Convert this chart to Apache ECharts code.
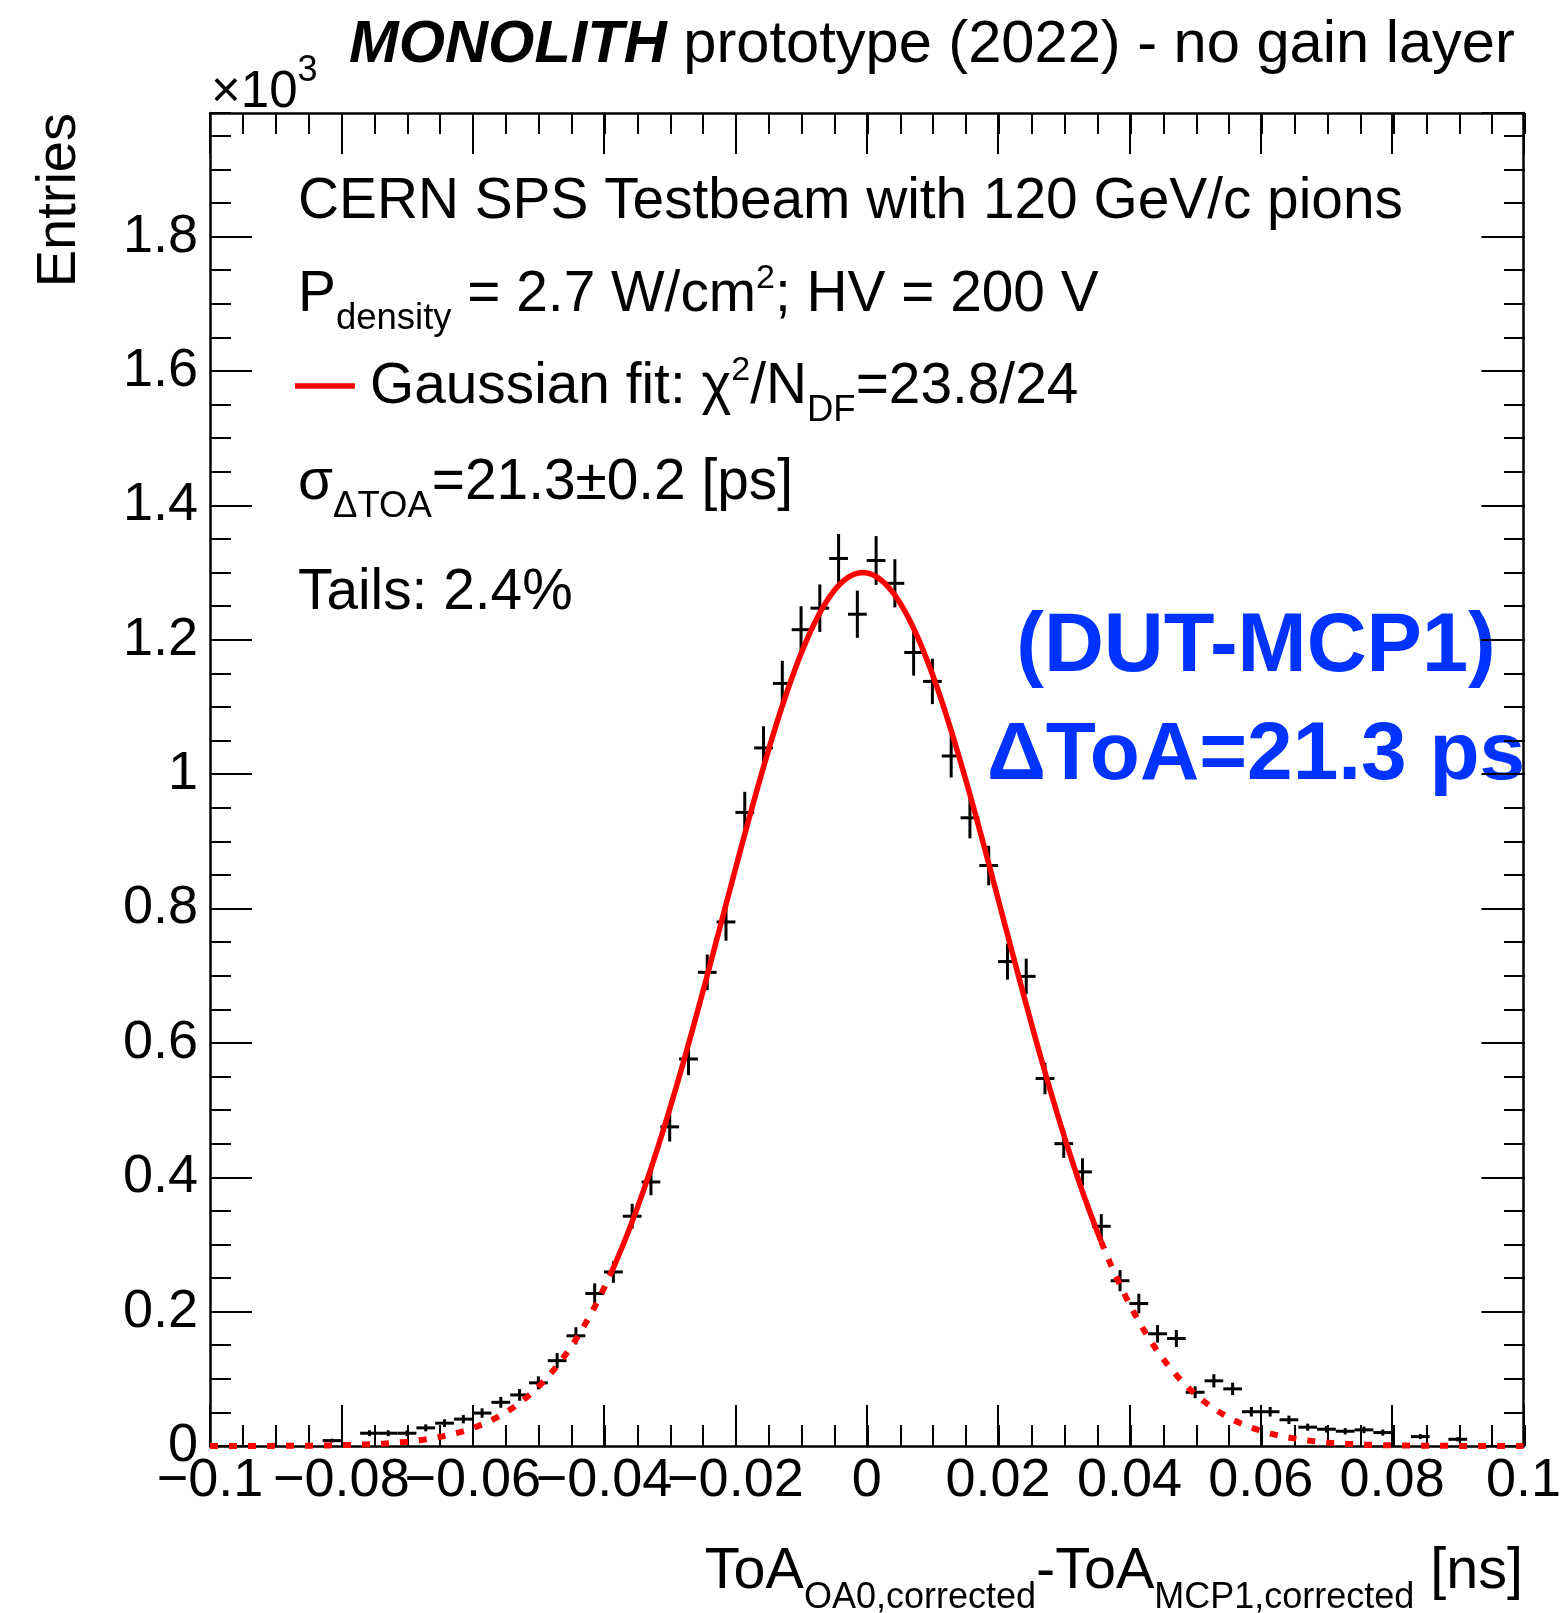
<!DOCTYPE html>
<html lang="en">
<head>
<meta charset="UTF-8">
<title>MONOLITH prototype (2022) - no gain layer</title>
<script src="https://cdn.jsdelivr.net/npm/echarts@6/dist/echarts.min.js"></script>
<style>
  html, body { margin: 0; padding: 0; background: #fff; }
  #main { width: 1564px; height: 1613px; }
</style>
</head>
<body>
<div id="main"></div>
<script>
// histogram: 70 bins between -0.1 and 0.1 ns, entries in units of 10^3
var xMin = -0.1, xMax = 0.1, nBins = 70;
var counts = [
  0, 0, 0, 0, 0, 0, 0.008, 0, 0.019, 0.019,
  0.019, 0.027, 0.034, 0.040, 0.049, 0.065, 0.076, 0.094, 0.127, 0.164,
  0.227, 0.259, 0.342, 0.393, 0.475, 0.576, 0.705, 0.780, 0.943, 1.039,
  1.135, 1.215, 1.247, 1.321, 1.238, 1.318, 1.284, 1.181, 1.138, 1.027,
  0.935, 0.864, 0.721, 0.699, 0.547, 0.450, 0.408, 0.327, 0.246, 0.212,
  0.167, 0.160, 0.080, 0.097, 0.085, 0.051, 0.051, 0.039, 0.028, 0.025,
  0.022, 0.024, 0.020, 0, 0.014, 0, 0.010, 0, 0, 0
];
var yMax = 1.984;

// gaussian fit (from the legend: sigma = 21.3 ps)
var fitAmp = 1.300, fitMean = -0.0006, fitSigma = 0.0213;
var fitRange = [-0.0388, 0.0357];

var FONT = '"Liberation Sans", Arial, Helvetica, sans-serif';
var binW = (xMax - xMin) / nBins;

var histData = [];
for (var i = 0; i < nBins; i++) {
    if (counts[i] <= 0) continue;
    var xc = xMin + (i + 0.5) * binW;
    // poisson error on the number of entries
    histData.push([xc, counts[i], Math.sqrt(counts[i] * 1000) / 1000]);
}

function gaus(x) {
    var d = (x - fitMean) / fitSigma;
    return fitAmp * Math.exp(-0.5 * d * d);
}
var fitLeft = [], fitMid = [], fitRight = [];
for (var k = 0; k <= 400; k++) {
    var x = xMin + k * 0.0005;
    if (x <= fitRange[0]) fitLeft.push([x, gaus(x)]);
    else if (x >= fitRange[1]) fitRight.push([x, gaus(x)]);
    else fitMid.push([x, gaus(x)]);
}
fitLeft.push([fitRange[0], gaus(fitRange[0])]);
fitMid.unshift([fitRange[0], gaus(fitRange[0])]);
fitMid.push([fitRange[1], gaus(fitRange[1])]);
fitRight.unshift([fitRange[1], gaus(fitRange[1])]);

// text helpers (latex-like runs with sub/superscripts)
var mctx = document.createElement('canvas').getContext('2d');
function fontOf(p) {
    return (p.italic ? 'italic ' : '') + (p.bold ? 'bold ' : '') + p.size + 'px ' + FONT;
}
function baseShift(font, size) {
    mctx.font = font;
    mctx.textBaseline = 'alphabetic';
    var a = mctx.measureText('H').fontBoundingBoxAscent;
    mctx.textBaseline = 'middle';
    var m = mctx.measureText('H').fontBoundingBoxAscent;
    mctx.textBaseline = 'alphabetic';
    var s = a - m;
    return isFinite(s) ? s : 0.3465 * size;
}
function textRun(x, y, parts, align, color) {
    var widths = [], total = 0;
    parts.forEach(function (p) {
        mctx.font = fontOf(p);
        var w = mctx.measureText(p.t).width;
        widths.push(w);
        total += w;
    });
    var cx = align === 'right' ? x - total : (align === 'center' ? x - total / 2 : x);
    var els = [];
    parts.forEach(function (p, j) {
        var f = fontOf(p);
        els.push({
            type: 'text', silent: true,
            x: cx, y: y + (p.dy || 0) - baseShift(f, p.size),
            style: {
                text: p.t, font: f, fill: color || '#000',
                align: 'left', textAlign: 'left',
                verticalAlign: 'middle', textVerticalAlign: 'middle'
            }
        });
        cx += widths[j];
    });
    return els;
}

var TXT = 56.8, SUBS = 36.5, SUB = 18, SUP = -23;
var graphics = [].concat(
    textRun(349, 62, [
        {t: 'MONOLITH', size: 59.6, bold: true, italic: true},
        {t: ' prototype (2022) - no gain layer', size: 59.6}
    ]),
    textRun(211, 107, [{t: '\u00d710', size: 51}, {t: '3', size: 36, dy: -26}]),
    textRun(298, 218, [{t: 'CERN SPS Testbeam with 120 GeV/c pions', size: TXT}]),
    textRun(298, 311, [
        {t: 'P', size: TXT}, {t: 'density', size: SUBS, dy: SUB},
        {t: ' = 2.7 W/cm', size: TXT}, {t: '2', size: 34, dy: SUP},
        {t: '; HV = 200 V', size: TXT}
    ]),
    textRun(370, 403, [
        {t: 'Gaussian fit: \u03c7', size: TXT}, {t: '2', size: 34, dy: SUP},
        {t: '/N', size: TXT}, {t: 'DF', size: SUBS, dy: SUB},
        {t: '=23.8/24', size: TXT}
    ]),
    textRun(298, 499, [
        {t: '\u03c3', size: TXT}, {t: '\u0394TOA', size: SUBS, dy: SUB},
        {t: '=21.3\u00b10.2 [ps]', size: TXT}
    ]),
    textRun(298, 609, [{t: 'Tails: 2.4%', size: TXT}]),
    textRun(1256, 671, [{t: '(DUT-MCP1)', size: 83, bold: true}], 'center', '#0033ff'),
    textRun(1256, 779, [{t: '\u0394ToA=21.3 ps', size: 82, bold: true}], 'center', '#0033ff'),
    textRun(1523, 1588, [
        {t: 'ToA', size: 57.5}, {t: 'OA0,corrected', size: 36, dy: 20},
        {t: '-ToA', size: 57.5}, {t: 'MCP1,corrected', size: 36, dy: 20},
        {t: ' [ns]', size: 57.5}
    ], 'right')
);
graphics.push({
    type: 'text', silent: true, x: 60, y: 113, rotation: Math.PI / 2,
    style: {
        text: 'Entries', font: '56px ' + FONT, fill: '#000',
        align: 'right', textAlign: 'right', verticalAlign: 'middle', textVerticalAlign: 'middle'
    }
});
graphics.push({
    type: 'line', silent: true,
    shape: {x1: 295, y1: 386, x2: 355, y2: 386},
    style: {stroke: '#ff0000', lineWidth: 5.5}
});

function fmt(v, d) {
    var s = String(+v.toFixed(d));
    return v < 0 ? '\u2212' + s.slice(1) : s;
}

var frame = {show: true, onZero: false, lineStyle: {color: '#000', width: 2.5}};
var noLine = {show: false, onZero: false};
function ticks(len) {
    return {show: true, inside: true, length: len, lineStyle: {color: '#000', width: 2}};
}
var noLabel = {show: false};
var G = {left: 210, right: 39, top: 113, bottom: 167};

var option = {
    backgroundColor: '#fff',
    animation: false,
    grid: [G, G],
    graphic: graphics,
    xAxis: [
        {gridIndex: 0, type: 'value', position: 'bottom', min: xMin, max: xMax, interval: 0.02,
         axisLine: frame, axisTick: ticks(41), splitLine: {show: false},
         axisLabel: {color: '#000', fontFamily: FONT, fontSize: 54, margin: 8,
                     hideOverlap: false, formatter: function (v) { return fmt(v, 2); }}},
        {gridIndex: 0, type: 'value', position: 'top', min: xMin, max: xMax, interval: 0.02,
         axisLine: frame, axisTick: ticks(41), splitLine: {show: false}, axisLabel: noLabel},
        {gridIndex: 1, type: 'value', position: 'bottom', min: xMin, max: xMax, interval: 0.005,
         axisLine: noLine, axisTick: ticks(21), splitLine: {show: false}, axisLabel: noLabel},
        {gridIndex: 1, type: 'value', position: 'top', min: xMin, max: xMax, interval: 0.005,
         axisLine: noLine, axisTick: ticks(21), splitLine: {show: false}, axisLabel: noLabel}
    ],
    yAxis: [
        {gridIndex: 0, type: 'value', position: 'left', min: 0, max: yMax, interval: 0.2,
         axisLine: frame, axisTick: ticks(42), splitLine: {show: false},
         axisLabel: {color: '#000', fontFamily: FONT, fontSize: 54, margin: 12, showMaxLabel: false,
                     formatter: function (v) { return fmt(v, 1); }}},
        {gridIndex: 0, type: 'value', position: 'right', min: 0, max: yMax, interval: 0.2,
         axisLine: frame, axisTick: ticks(42), splitLine: {show: false}, axisLabel: noLabel},
        {gridIndex: 1, type: 'value', position: 'left', min: 0, max: yMax, interval: 0.05,
         axisLine: noLine, axisTick: ticks(21), splitLine: {show: false}, axisLabel: noLabel},
        {gridIndex: 1, type: 'value', position: 'right', min: 0, max: yMax, interval: 0.05,
         axisLine: noLine, axisTick: ticks(21), splitLine: {show: false}, axisLabel: noLabel}
    ],
    series: [
        {
            name: 'data', type: 'custom', xAxisIndex: 0, yAxisIndex: 0, z: 3, clip: false,
            data: histData,
            encode: {x: 0, y: 1},
            renderItem: function (params, api) {
                var x = api.value(0), y = api.value(1), e = api.value(2);
                var l = api.coord([x - binW / 2, y]), r = api.coord([x + binW / 2, y]);
                var t = api.coord([x, y + e]), b = api.coord([x, Math.max(0, y - e)]);
                var st = {stroke: '#000', lineWidth: 3};
                return {type: 'group', children: [
                    {type: 'line', shape: {x1: l[0], y1: l[1], x2: r[0], y2: r[1]}, style: st},
                    {type: 'line', shape: {x1: t[0], y1: t[1], x2: b[0], y2: b[1]}, style: st}
                ]};
            }
        },
        {name: 'fit-left', type: 'line', xAxisIndex: 0, yAxisIndex: 0, z: 4, clip: false,
         data: fitLeft, showSymbol: false, symbol: 'none',
         lineStyle: {color: '#ff0000', width: 6, type: [8, 11]}},
        {name: 'fit', type: 'line', xAxisIndex: 0, yAxisIndex: 0, z: 4, clip: false,
         data: fitMid, showSymbol: false, symbol: 'none',
         lineStyle: {color: '#ff0000', width: 5.5}},
        {name: 'fit-right', type: 'line', xAxisIndex: 0, yAxisIndex: 0, z: 4, clip: false,
         data: fitRight, showSymbol: false, symbol: 'none',
         lineStyle: {color: '#ff0000', width: 6, type: [8, 11]}}
    ]
};

var myChart = echarts.init(document.getElementById('main'));
myChart.setOption(option);
</script>
</body>
</html>
